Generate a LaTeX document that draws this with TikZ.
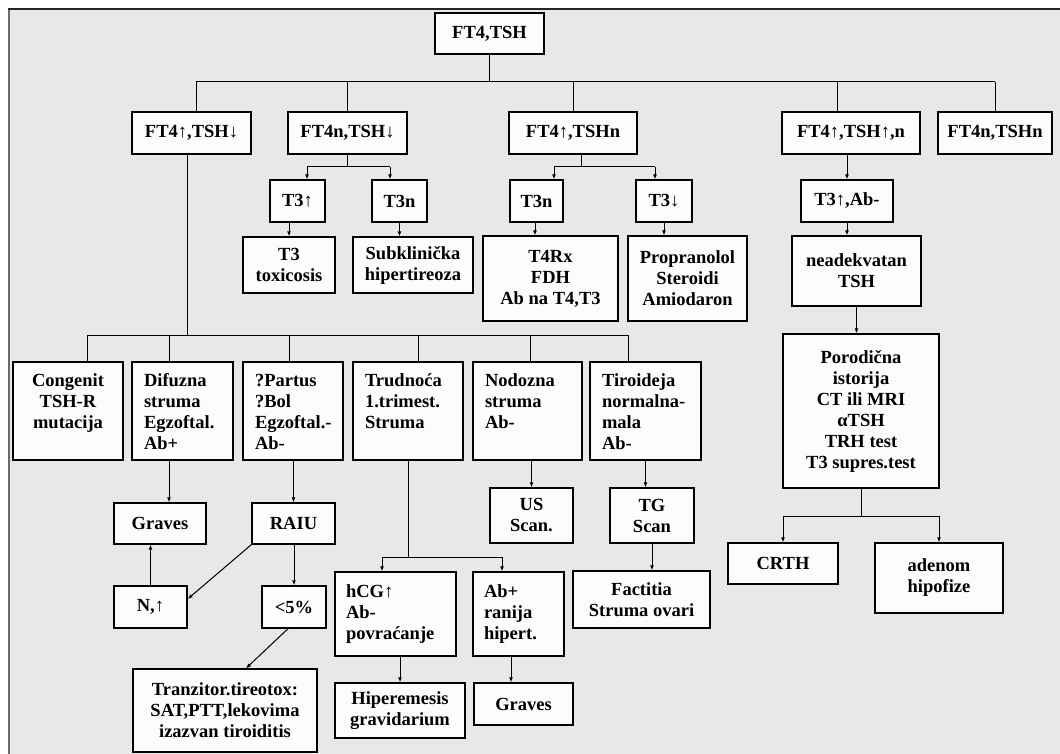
\documentclass[tikz,border=0pt]{standalone}
\usepackage{fontspec}
\setmainfont{Liberation Serif}
\usetikzlibrary{arrows.meta}
\definecolor{panel}{HTML}{E7E8EA}
\definecolor{cardfill}{HTML}{FCFCFC}
\definecolor{rulelt}{HTML}{6A6A6A}
\definecolor{ruledk}{HTML}{262626}
% top-aligned text block for the tall boxes of the lower row:
% #1 block width, #2 extra left indent, #3 alignment, #4 lines
\newcommand{\rowcell}[4]{\parbox[c][98pt][t]{#1}{\vspace*{10pt}#3\addtolength{\leftskip}{#2}\strut #4}}

\begin{document}
\begin{tikzpicture}[x=1pt,y=-1pt,
  card/.style={draw=black, line width=1.3pt, fill=cardfill, inner sep=0pt,
               align=center, font=\fontsize{18.5}{21}\selectfont\bfseries},
  sz/.style 2 args={minimum width=#1pt, minimum height=#2pt},
  lcard/.style={card, align=left, text width=#1pt},
  wire/.style={draw=black, line width=1pt},
  arr/.style={wire, -{Latex[length=5pt,width=4pt]}},
]
\useasboundingbox (0,0) rectangle (1060,754);
\fill[white] (0,0) rectangle (1060,754);
\fill[panel] (9,9) rectangle (1060,754);
\draw[rulelt, line width=2.5pt] (9,8) -- (9,754);
\draw[ruledk, line width=2.5pt] (8,9) -- (1060,9);

% ---- root and first level
\node[card, sz={109}{41}] (top) at (489.5,33.5) {FT4,TSH};
\node[card, sz={119}{42}] (a) at (191.5,133) {FT4↑,TSH↓};
\node[card, sz={119}{42}] (b) at (347.5,133) {FT4n,TSH↓};
\node[card, sz={128}{42}] (c) at (573,133) {FT4↑,TSHn};
\node[card, sz={138}{42}] (d) at (851,133) {FT4↑,TSH↑,n};
\node[card, sz={114}{42}] (e) at (995,133) {FT4n,TSHn};

% ---- T3 level
\node[card, sz={55}{42}] (b1) at (297.5,201) {T3↑};
\node[card, sz={55}{42}] (b2) at (399.5,201) {T3n};
\node[card, sz={53}{42}] (c1) at (536.5,201) {T3n};
\node[card, sz={56}{42}] (c2) at (664,201) {T3↓};
\node[card, sz={92}{42}] (d1) at (847,201) {T3↑,Ab-};

\node[card, sz={92}{56}] (b1x) at (289,265) {T3\\toxicosis};
\node[card, sz={120}{56}] (b2x) at (413,265) {Subklinička\\hipertireoza};
\node[card, sz={135}{85}] (c1x) at (550.5,278.5) {T4Rx\\FDH\\Ab na T4,T3};
\node[card, sz={119}{85}] (c2x) at (687.5,278.5) {Propranolol\\Steroidi\\Amiodaron};

% ---- right branch
\node[card, sz={129}{70}] (d2) at (856.5,271) {neadekvatan\\TSH};
\node[card, sz={156}{154}] (d3) at (861,411) {Porodična\\istorija\\CT ili MRI\\αTSH\\TRH test\\T3 supres.test};
\node[card, sz={110}{41}] (d4) at (783,563.5) {CRTH};
\node[card, sz={128}{70}] (d5) at (939,578) {adenom\\hipofize};

% ---- lower row
\node[card, minimum width=110pt] (r1) at (68,411) {\rowcell{100pt}{0pt}{\centering}{Congenit\\TSH-R\\mutacija}};
\node[card, minimum width=101pt] (r2) at (182.5,411) {\rowcell{95pt}{9pt}{\raggedright}{Difuzna\\struma\\Egzoftal.\\Ab+}};
\node[card, minimum width=100pt] (r3) at (293,411) {\rowcell{94pt}{9pt}{\raggedright}{?Partus\\?Bol\\Egzoftal.-\\Ab-}};
\node[card, minimum width=110pt] (r4) at (408,411) {\rowcell{104pt}{9pt}{\raggedright}{Trudnoća\\1.trimest.\\Struma}};
\node[card, minimum width=109pt] (r5) at (527.5,411) {\rowcell{103pt}{9pt}{\raggedright}{Nodozna\\struma\\Ab-}};
\node[card, minimum width=111pt] (r6) at (645.5,411) {\rowcell{105pt}{9pt}{\raggedright}{Tiroideja\\normalna-\\mala\\Ab-}};

\node[card, sz={92}{41}] (g1) at (160,523.5) {Graves};
\node[card, sz={83}{41}] (raiu) at (293.5,523.5) {RAIU};
\node[card, sz={73}{42}] (nup) at (150.5,607) {N,↑};
\node[card, sz={64}{42}] (lt) at (294,607) {<5\%};
\node[card, sz={184}{83}] (tranz) at (225,710.5) {Tranzitor.tireotox:\\SAT,PTT,lekovima\\izazvan tiroiditis};

\node[lcard=99, sz={121}{84}] (hcg) at (395.5,614) {hCG↑\\Ab-\\povraćanje};
\node[lcard=69, sz={91}{84}] (abp) at (518.5,614) {Ab+\\ranija\\hipert.};
\node[card, sz={130}{55}] (hip) at (400,710.5) {Hiperemesis\\gravidarium};
\node[card, sz={99}{42}] (gr2) at (523.5,704) {Graves};

\node[card, sz={83}{55}] (us) at (531.5,515.5) {US\\Scan.};
\node[card, sz={84}{55}] (tg) at (652,515.5) {TG\\Scan};
\node[card, sz={137}{57}] (fac) at (641.5,599.5) {Factitia\\Struma ovari};

% ---- connectors: root to first level
\coordinate (busA) at (489.5,82);
\draw[wire] (top.south) -- (busA);
\coordinate (aT) at ([xshift=4.5pt]a.north);
\coordinate (dT) at ([xshift=-14pt]d.north);
\draw[wire] (aT |- busA) -- (e.north |- busA);
\foreach \n in {aT,b.north,c.north,dT,e.north} \draw[wire] (\n |- busA) -- (\n);

% FT4n,TSH low
\coordinate (busB) at (347.5,167);
\coordinate (b1T) at ([xshift=9.5pt]b1.north);
\coordinate (b2T) at ([xshift=-9.5pt]b2.north);
\draw[wire] (b.south) -- (busB);
\draw[wire] (b1T |- busB) -- (b2T |- busB);
\draw[arr] (b1T |- busB) -- (b1T);
\draw[arr] (b2T |- busB) -- (b2T);
\draw[arr] (b1x.north |- b1.south) -- (b1x.north);
\draw[arr] (b2.south) -- (b2.south |- b2x.north);

% FT4 high, TSH normal
\coordinate (cB) at ([xshift=8pt]c.south);
\coordinate (busC) at (581,167);
\coordinate (c1T) at ([xshift=17.5pt]c1.north);
\coordinate (c2T) at ([xshift=-9pt]c2.north);
\draw[wire] (cB) -- (busC);
\draw[wire] (c1T |- busC) -- (c2T |- busC);
\draw[arr] (c1T |- busC) -- (c1T);
\draw[arr] (c2T |- busC) -- (c2T);
\coordinate (c1B) at ([xshift=-1.5pt]c1.south);
\draw[arr] (c1B) -- (c1B |- c1x.north);
\draw[arr] (c2.south) -- (c2.south |- c2x.north);

% FT4 high, TSH high or normal
\draw[arr] (d1.north |- d.south) -- (d1.north);
\draw[arr] (d1.south) -- (d1.south |- d2.north);
\draw[arr] (d2.south) -- (d2.south |- d3.north);
\coordinate (busD) at (861,516);
\draw[wire] (d3.south) -- (busD);
\draw[wire] (d4.north |- busD) -- (d5.north |- busD);
\draw[arr] (d4.north |- busD) -- (d4.north);
\draw[arr] (d5.north |- busD) -- (d5.north);

% FT4 high, TSH low: lower row
\coordinate (aB) at ([xshift=-4.5pt]a.south);
\coordinate (busR) at (187,335);
\draw[wire] (aB) -- (busR);
\coordinate (r1T) at ([xshift=19pt]r1.north);
\coordinate (r2T) at ([xshift=-13.5pt]r2.north);
\coordinate (r3T) at ([xshift=-4pt]r3.north);
\coordinate (r4T) at ([xshift=10pt]r4.north);
\coordinate (r5T) at ([xshift=3pt]r5.north);
\coordinate (r6T) at ([xshift=-17.5pt]r6.north);
\draw[wire] (r1T |- busR) -- (r6T |- busR);
\foreach \n in {r1T,r2T,r3T,r4T,r5T,r6T} \draw[wire] (\n |- busR) -- (\n);

% diffuse goitre and painless/postpartum branch
\coordinate (r2B) at ([xshift=-13.5pt]r2.south);
\draw[arr] (r2B) -- (r2B |- g1.north);
\draw[arr] (raiu.north |- r3.south) -- (raiu.north);
\draw[arr] (raiu.south west) -- ([yshift=8pt]nup.east);
\draw[arr] (nup.north) -- (nup.north |- g1.south);
\draw[arr] (lt.north |- raiu.south) -- (lt.north);
\draw[arr] ([xshift=-6pt]lt.south) -- ([xshift=21pt]tranz.north);

% pregnancy branch
\coordinate (busP) at (408,557);
\coordinate (hcgT) at ([xshift=-13.5pt]hcg.north);
\coordinate (abpT) at ([xshift=-16.5pt]abp.north);
\draw[wire] (r4.south) -- (busP);
\draw[wire] (hcgT |- busP) -- (abpT |- busP);
\draw[arr] (hcgT |- busP) -- (hcgT);
\draw[arr] (abpT |- busP) -- (abpT);
\draw[arr] (hip.north |- hcg.south) -- (hip.north);
\coordinate (abpB) at ([xshift=-7.5pt]abp.south);
\draw[arr] (abpB) -- (abpB |- gr2.north);

% nodular goitre and normal/small thyroid
\draw[arr] (us.north |- r5.south) -- (us.north);
\draw[arr] (r6.south) -- (r6.south |- tg.north);
\draw[arr] (tg.south) -- (tg.south |- fac.north);
\end{tikzpicture}
\end{document}
